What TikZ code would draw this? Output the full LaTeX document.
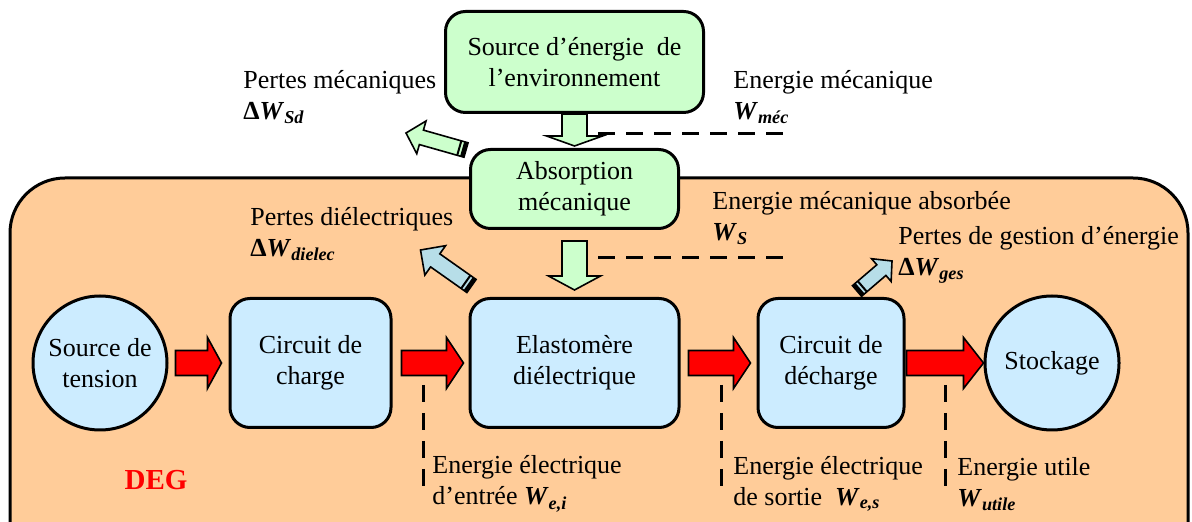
\documentclass[tikz,border=0pt]{standalone}
\usepackage{fontspec}
\setmainfont{Liberation Serif}
\usepackage{tikz}
\usetikzlibrary{positioning, calc}

\definecolor{degorange}{RGB}{255,204,153}
\definecolor{mecgreen}{RGB}{204,255,204}
\definecolor{boxblue}{RGB}{204,236,255}
\definecolor{lossblue}{RGB}{183,222,232}

\tikzset{
  stagebox/.style = {draw, line width=1.5pt, rounded corners=10pt, fill=boxblue,
                     align=center, minimum height=64.5pt, inner sep=2pt},
  mecbox/.style   = {stagebox, fill=mecgreen},
  endnode/.style  = {draw, line width=1.5pt, circle, fill=boxblue, align=center,
                     minimum size=67pt, inner sep=0pt},
  guide/.style    = {line width=1.5pt, dash pattern=on 8.5pt off 5.5pt},
  note/.style     = {anchor=west, align=left, inner sep=0pt},
  elecflow/.style = {fill=red, draw=black, line width=0.8pt},
  mecflow/.style  = {fill=mecgreen, draw=black, line width=0.8pt},
  lossflow/.style = {fill=lossblue, draw=black, line width=0.8pt},
}

\newcommand{\Wen}[1]{\textbf{\textit{W}}\textsubscript{\textbf{\textit{#1}}}}
\newcommand{\dWen}[1]{\textbf{Δ}\Wen{#1}}
% fat arrow: tail, tip, half shaft, half head, head length, style
\newcommand{\fatarrow}[6]{%
  \coordinate (fa-c) at ($(#2)!#5!(#1)$);
  \filldraw[#6] ($(#1)!#3!90:(#2)$) -- ($(fa-c)!#3!-90:(#1)$)
    -- ($(fa-c)!#4!-90:(#1)$) -- (#2) -- ($(fa-c)!#4!90:(#1)$)
    -- ($(fa-c)!#3!90:(#1)$) -- ($(#1)!#3!-90:(#2)$) -- cycle;}
% striped tail of a loss arrow
\newcommand{\lossbase}[3]{%
  \draw[line width=2pt] ($(#1)!1pt!(#2)!#3!90:(#2)$) -- ($(#1)!1pt!(#2)!#3!-90:(#2)$);
  \draw[line width=1pt] ($(#1)!3.5pt!(#2)!#3!90:(#2)$) -- ($(#1)!3.5pt!(#2)!#3!-90:(#2)$);}

\begin{document}
\begin{tikzpicture}[x=0.5pt, y=-0.5pt, font=\fontsize{13}{15.5}\selectfont]
  \useasboundingbox (0,0) rectangle (1192,522);
  % DEG region
  \draw[line width=1.5pt, fill=degorange, rounded corners=27.5pt] (10,178) rectangle (1188,620);

  \node[endnode] (src) at (100,363) {Source de\\tension};
  \node[stagebox, minimum width=80.5pt, right=30pt of src] (charge) {Circuit de\\charge};
  \node[stagebox, minimum width=104.5pt, right=38pt of charge] (elast) {Elastomère\\diélectrique};
  \node[stagebox, minimum width=73pt, right=38pt of elast] (decharge) {Circuit de\\décharge};
  \node[endnode, right=39pt of decharge] (stock) {Stockage};
  \node[mecbox, minimum width=104pt, minimum height=39.5pt, above=33.5pt of elast] (absorb) {Absorption\\mécanique};
  \node[mecbox, minimum width=129pt, minimum height=50.5pt, above=17pt of absorb] (env) {Source d’énergie~ de\\l’environnement};

  % electrical flow
  \coordinate (r1a) at ([xshift=3.5pt]src.east);
  \coordinate (r1b) at ([xshift=-3.5pt]charge.west);
  \coordinate (r2a) at ([xshift=4.5pt]charge.east);
  \coordinate (r2b) at ([xshift=-2.5pt]elast.west);
  \coordinate (r3a) at ([xshift=4pt]elast.east);
  \coordinate (r3b) at ([xshift=-3pt]decharge.west);
  \coordinate (r4a) at ([xshift=0.5pt]decharge.east);
  \coordinate (r4b) at (stock.west);
  \fatarrow{r1a}{r1b}{6.25pt}{12.75pt}{7pt}{elecflow}
  \fatarrow{r2a}{r2b}{6.25pt}{12.75pt}{8.5pt}{elecflow}
  \fatarrow{r3a}{r3b}{6.25pt}{12.75pt}{8.5pt}{elecflow}
  \fatarrow{r4a}{r4b}{6.25pt}{12.75pt}{10pt}{elecflow}

  % mechanical flow
  \coordinate (g1a) at (absorb.north |- env.south);
  \coordinate (g1b) at ([yshift=1pt]absorb.north);
  \coordinate (g2a) at ([yshift=-5.5pt]absorb.south);
  \coordinate (g2b) at ([yshift=3.5pt]elast.north);
  \fatarrow{g1a}{g1b}{6.25pt}{14pt}{5pt}{mecflow}
  \fatarrow{g2a}{g2b}{6.25pt}{13pt}{7pt}{mecflow}

  % losses
  \coordinate (l1a) at ([shift={(-3,2)}]absorb.north west);
  \coordinate (l1b) at ($(l1a)+(-60,-17)$);
  \coordinate (l2a) at ([shift={(3,-11)}]elast.north west);
  \coordinate (l2b) at ($(l2a)+(-51,-36)$);
  \coordinate (l3a) at ([shift={(26,-6)}]decharge.north);
  \coordinate (l3b) at ($(l3a)+(35,-30)$);
  \fatarrow{l1a}{l1b}{3.75pt}{8.5pt}{8pt}{mecflow}
  \lossbase{l1a}{l1b}{3.75pt}
  \fatarrow{l2a}{l2b}{4pt}{9pt}{9pt}{lossflow}
  \lossbase{l2a}{l2b}{4pt}
  \fatarrow{l3a}{l3b}{3.5pt}{7.5pt}{7pt}{lossflow}
  \lossbase{l3a}{l3b}{3.5pt}

  % energy markers
  \coordinate (m1a) at (598,134);
  \coordinate (m1b) at (790,134);
  \coordinate (m2a) at (598,258);
  \coordinate (m2b) at (790,258);
  \coordinate (e1a) at (423,385);
  \coordinate (e1b) at (423,490);
  \coordinate (e2a) at (721,385);
  \coordinate (e2b) at (721,490);
  \coordinate (e3a) at (945,385);
  \coordinate (e3b) at (945,490);
  \draw[guide] (m1a) -- (m1b);
  \draw[guide] (m2a) -- (m2b);
  \draw[guide] (e1a) -- (e1b);
  \draw[guide] (e2a) -- (e2b);
  \draw[guide] (e3a) -- (e3b);

  \node[note] (lossmec) at (243,97) {Pertes mécaniques\\\dWen{Sd}};
  \node[note] (wmec) at (733,97) {Energie mécanique\\\Wen{méc}};
  \node[note] (lossdiel) at (250,234) {Pertes diélectriques\\\dWen{dielec}};
  \node[note] (wabs) at (712,218) {Energie mécanique absorbée\\\Wen{S}};
  \node[note] (lossges) at (898,255) {Pertes de gestion d’énergie\\\dWen{ges}};
  \node[note] (wei) at (432,484) {Energie électrique\\d’entrée \Wen{e,i}};
  \node[note] (wes) at (733,484) {Energie électrique\\de sortie~ \Wen{e,s}};
  \node[note] (wut) at (957,484) {Energie utile\\\Wen{utile}};
  \node[text=red, font=\fontsize{14.5}{17}\selectfont\bfseries] (deg) at (156,480) {DEG};
\end{tikzpicture}
\end{document}
